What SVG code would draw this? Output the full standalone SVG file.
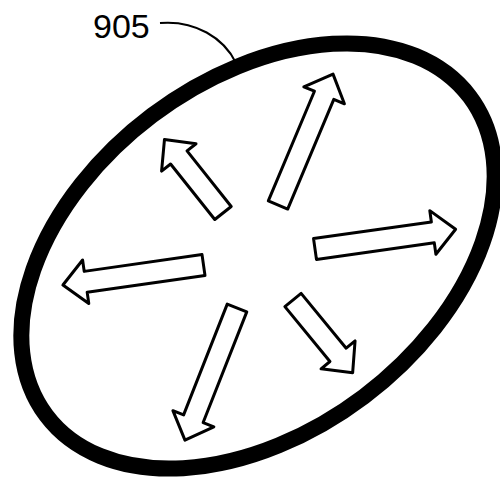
<svg xmlns="http://www.w3.org/2000/svg" width="500" height="480" viewBox="0 0 500 480">
<style>
.rim{fill:none;stroke:#000;stroke-width:16}
.arrow{fill:#fff;stroke:#000;stroke-width:3;stroke-linejoin:round}
.lead{fill:none;stroke:#000;stroke-width:2}
.lbl{font-family:"Liberation Sans",Arial,sans-serif;font-size:34px;fill:#000}
</style>
<defs>
<path id="longArrow" d="M0,-10.5 L119,-10.5 L119,-22 L142,0 L119,22 L119,10.5 L0,10.5 Z"/>
<path id="shortArrow" d="M0,-10.5 L71,-10.5 L71,-22 L94,0 L71,22 L71,10.5 L0,10.5 Z"/>
</defs>
<rect width="500" height="480" fill="#fff"/>
<g id="rim">
<ellipse class="rim" cx="258" cy="256" rx="265" ry="176" transform="rotate(-37 258 256)"/>
</g>
<g id="arrows">
<use href="#longArrow" class="arrow" transform="translate(278,205) rotate(-67.2)"/>
<use href="#shortArrow" class="arrow" transform="translate(223,213) rotate(-128.5)"/>
<use href="#longArrow" class="arrow" transform="translate(315,249) rotate(-8)"/>
<use href="#shortArrow" class="arrow" transform="translate(293,300) rotate(50.6)"/>
<use href="#longArrow" class="arrow" transform="translate(203.5,265) rotate(171.9)"/>
<use href="#longArrow" class="arrow" transform="translate(237,308) rotate(111.5)"/>
</g>
<g id="connectors">
<path class="lead" d="M160,23 C195,20 224,38 236,63"/>
</g>
<g id="label-905">
<text class="lbl" x="93" y="38">905</text>
</g>
</svg>
